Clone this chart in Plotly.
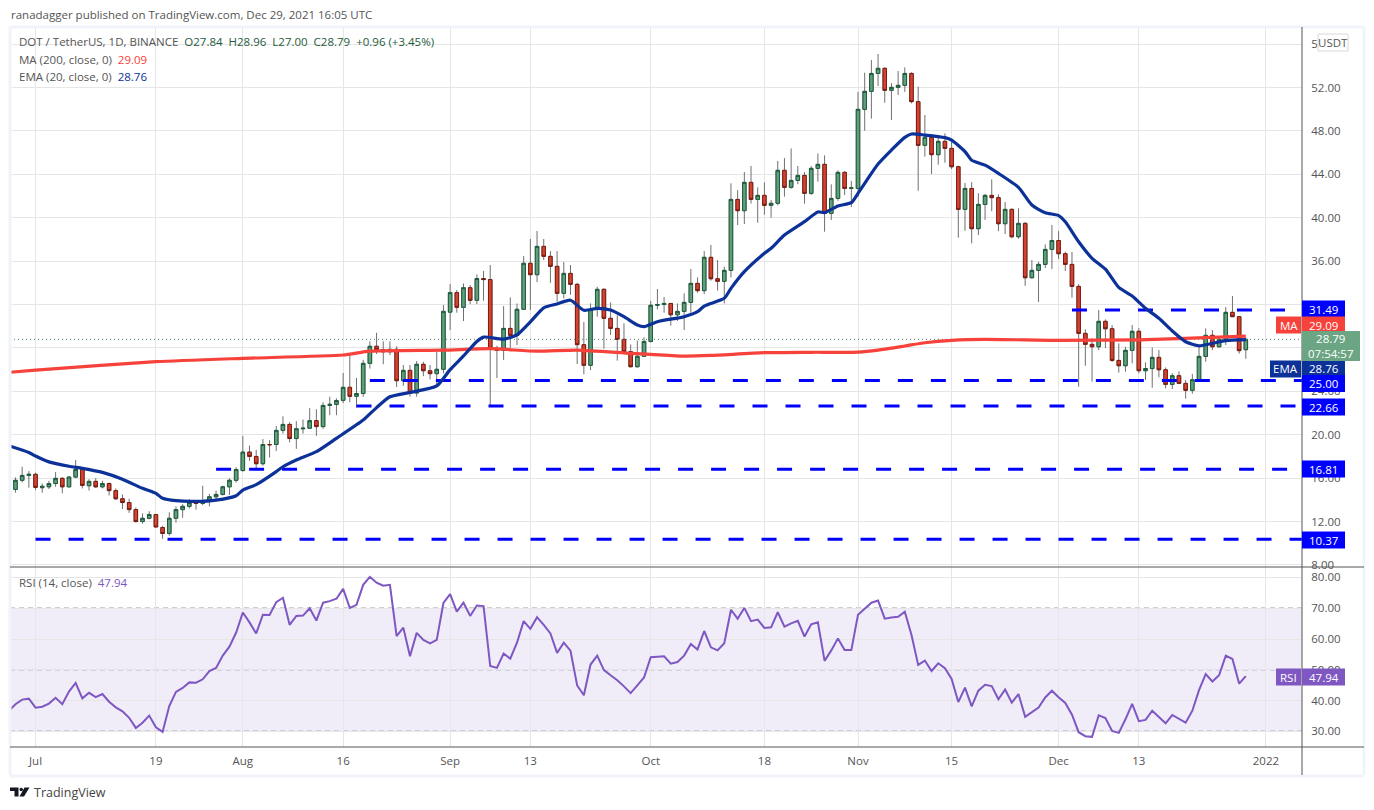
import pandas as pd
import plotly.graph_objects as go

# daily candles, Jun 27 - Dec 29 2021
dates = pd.date_range("2021-06-27", periods=186)

opens = [14.45, 14.96, 15.80, 16.25,
    16.35, 15.12, 15.20, 15.50, 15.98, 15.20, 16.10, 16.80, 15.30, 15.70, 15.20, 15.50, 14.85, 14.10, 13.75, 13.10, 12.00, 12.30, 12.65, 11.45, 10.90, 12.30, 13.10, 13.40, 13.75, 13.67, 13.92, 14.28, 14.50, 15.20, 15.80,
    16.70, 18.40, 18.00, 17.33, 19.10, 19.10, 20.40, 20.95, 19.65, 20.55, 20.60, 21.30, 20.75, 22.70, 22.80, 23.17, 24.37, 23.54, 23.80, 26.58, 28.15, 27.84, 27.65, 27.87, 24.98, 25.93, 23.85, 26.49, 25.90, 25.63, 26.03,
    31.30, 33.10, 31.74, 33.55, 32.39, 34.40, 34.30, 27.96, 27.78, 29.80, 29.16, 31.56, 35.80, 34.75, 37.36, 36.44, 35.52, 33.03, 34.87, 33.86, 28.30, 26.40, 31.56, 33.40, 30.73, 29.80, 28.79, 27.66, 26.27, 27.23,
    28.60, 31.93, 32.00, 32.10, 31.06, 31.37, 32.20, 33.95, 33.28, 36.35, 34.38, 34.14, 35.15, 41.69, 40.65, 43.26, 41.69, 42.06, 41.14, 41.33, 44.37, 42.80, 43.44, 43.90, 42.25, 44.55, 44.92, 40.40, 41.78, 44.18, 42.70,
    42.70, 49.99, 51.65, 53.30, 53.77, 51.74, 52.02, 52.20, 53.30, 50.70, 46.67, 47.41, 45.81, 47.04, 46.39, 44.70, 40.77, 42.70, 38.99, 41.23, 42.06, 41.85, 39.45, 40.77, 38.25, 39.48, 34.47, 35.15, 35.70, 37.08,
    37.90, 36.68, 35.70, 33.67, 29.34, 28.33, 28.11, 30.45, 29.77, 26.85, 26.36, 27.78, 29.53, 25.90, 26.10, 27.13, 25.99, 24.64, 25.44, 24.73, 24.09, 25.07, 27.22, 29.16, 28.11, 28.79, 31.28, 30.88, 27.84]

highs = [15.10, 16.07, 17.05, 16.65,
    16.50, 15.50, 15.75, 16.56, 16.10, 16.15, 17.67, 17.00, 15.90, 16.00, 15.75, 15.60, 15.05, 14.50, 14.10, 13.30, 12.75, 12.95, 12.70, 11.60, 12.85, 13.40, 13.60, 14.05, 13.90, 15.30, 14.55, 14.85, 15.30, 15.98, 17.00,
    19.90, 19.00, 18.60, 19.60, 19.50, 20.80, 21.70, 21.15, 21.25, 21.40, 22.45, 22.35, 23.00, 23.50, 23.35, 25.69, 27.44, 25.23, 26.90, 28.60, 29.40, 28.60, 28.60, 28.15, 26.43, 26.43, 26.80, 26.73, 26.43, 27.63, 31.96,
    33.90, 33.34, 33.95, 33.80, 34.78, 35.10, 35.64, 28.20, 31.86, 32.66, 32.10, 36.47, 38.04, 38.78, 38.04, 36.93, 36.93, 35.92, 35.64, 34.00, 30.40, 32.10, 33.64, 33.50, 32.20, 31.00, 30.27, 28.33, 28.67, 28.98,
    32.33, 33.43, 32.69, 32.10, 32.10, 33.03, 35.27, 34.50, 36.93, 37.50, 36.10, 35.49, 43.17, 42.55, 44.21, 44.77, 42.80, 43.26, 41.63, 45.23, 45.50, 46.39, 44.77, 44.21, 44.77, 45.93, 45.75, 43.08, 44.37, 44.30, 43.40,
    51.60, 53.37, 54.53, 55.09, 53.86, 52.40, 53.52, 53.86, 53.40, 52.08, 49.47, 47.68, 47.47, 47.78, 47.30, 44.80, 43.20, 43.29, 42.25, 42.20, 43.54, 42.15, 41.45, 40.86, 40.86, 39.60, 36.10, 35.95, 37.55, 39.33,
    38.77, 36.87, 36.84, 33.89, 29.71, 28.88, 31.49, 30.63, 30.10, 28.42, 28.11, 30.11, 29.83, 26.67, 28.05, 27.80, 26.20, 25.66, 25.84, 25.04, 25.60, 28.27, 29.80, 29.65, 29.03, 31.77, 32.78, 30.93, 28.96]

lows = [14.20, 14.66, 15.60, 15.12,
    14.90, 14.65, 15.00, 15.20, 14.60, 15.15, 16.00, 15.05, 14.85, 15.10, 15.05, 14.40, 13.98, 13.15, 12.80, 11.90, 11.80, 12.20, 11.45, 10.40, 10.70, 11.90, 12.35, 13.20, 13.10, 13.50, 13.40, 13.85, 14.40, 14.45, 15.60,
    16.60, 17.60, 16.85, 17.15, 17.90, 18.50, 20.10, 19.30, 18.70, 20.10, 20.55, 19.90, 20.55, 21.80, 21.80, 22.92, 23.00, 22.50, 23.50, 26.10, 27.44, 26.50, 27.35, 24.40, 24.50, 23.50, 23.50, 25.40, 25.10, 24.43, 25.66,
    29.65, 31.25, 30.48, 32.05, 32.05, 32.35, 22.68, 25.23, 26.90, 28.00, 28.27, 31.50, 31.50, 34.08, 36.10, 34.00, 32.26, 32.57, 32.90, 26.52, 25.57, 25.96, 30.88, 27.93, 29.20, 26.83, 27.50, 26.20, 26.18, 27.20,
    28.50, 31.55, 31.25, 30.05, 30.50, 29.65, 31.19, 33.09, 32.97, 34.20, 33.28, 32.10, 34.50, 39.33, 39.42, 41.30, 39.54, 40.28, 40.00, 41.14, 41.94, 42.68, 43.10, 41.30, 42.10, 43.32, 38.71, 39.79, 41.57, 42.09, 41.00,
    41.94, 48.02, 49.13, 52.14, 50.60, 49.00, 51.31, 51.60, 50.54, 42.49, 45.63, 44.03, 44.89, 45.07, 44.49, 38.16, 38.80, 37.64, 38.40, 39.80, 40.60, 38.77, 38.50, 38.10, 38.07, 33.73, 34.40, 32.23, 35.36, 35.27,
    36.19, 35.09, 32.63, 24.43, 26.36, 24.89, 27.80, 27.99, 26.70, 25.72, 25.81, 26.58, 25.66, 25.04, 24.33, 25.29, 24.27, 24.21, 24.67, 23.32, 23.78, 25.04, 26.73, 27.80, 28.05, 28.27, 30.85, 27.47, 27.00]

closes = [14.95, 15.80, 16.25, 16.35,
    15.15, 15.25, 15.50, 15.98, 15.20, 16.10, 16.80, 15.33, 15.70, 15.20, 15.50, 14.85, 14.10, 13.75, 13.10, 12.00, 12.30, 12.65, 11.50, 10.90, 12.30, 13.10, 13.40, 13.75, 13.67, 13.92, 14.28, 14.50, 15.20, 15.80, 16.80,
    18.40, 18.00, 17.33, 19.10, 19.08, 20.40, 20.95, 19.65, 20.55, 20.60, 21.30, 20.75, 22.70, 22.80, 23.15, 24.37, 23.54, 23.80, 26.58, 28.15, 27.84, 27.65, 27.87, 24.98, 25.93, 23.85, 26.49, 25.90, 25.63, 26.03, 31.37,
    33.10, 31.74, 33.55, 32.39, 34.40, 34.30, 27.96, 27.78, 29.80, 29.16, 31.56, 35.80, 34.75, 37.36, 36.44, 35.52, 33.03, 34.87, 33.86, 28.30, 26.40, 31.56, 33.40, 30.73, 29.80, 28.79, 27.66, 26.27, 27.23, 28.60,
    31.93, 32.00, 32.10, 31.06, 31.37, 32.20, 33.95, 33.28, 36.35, 34.38, 34.14, 35.15, 41.69, 40.65, 43.26, 41.69, 42.06, 41.14, 41.33, 44.37, 42.80, 43.44, 43.90, 42.25, 44.55, 44.92, 40.40, 41.78, 44.18, 42.70, 42.75,
    49.99, 51.65, 53.30, 53.77, 51.74, 52.02, 52.20, 53.30, 50.70, 46.67, 47.41, 45.81, 47.04, 46.39, 44.70, 40.77, 42.70, 38.99, 41.23, 42.06, 41.85, 39.45, 40.77, 38.25, 39.48, 34.47, 35.15, 35.70, 37.08, 37.90,
    36.68, 35.70, 33.67, 29.34, 28.33, 28.11, 30.45, 29.77, 26.85, 26.36, 27.78, 29.53, 25.90, 26.10, 27.13, 25.99, 24.64, 25.44, 24.73, 24.09, 25.07, 27.22, 29.16, 28.11, 28.79, 31.28, 30.88, 27.75, 28.79]

rsi = [36.7, 38.8, 40.3, 40.6,
    37.7, 38.0, 39.0, 40.9, 38.8, 42.9, 45.7, 40.7, 42.5, 41.1, 42.1, 39.6, 37.8, 36.5, 34.4, 31.1, 32.8, 35.1, 31.3, 29.8, 38.2, 42.8, 44.1, 45.9, 45.8, 46.9, 49.6, 50.6, 54.6, 57.5, 62.1,
    68.6, 65.4, 61.8, 67.9, 67.8, 72.0, 73.4, 64.6, 67.5, 67.6, 70.0, 66.0, 71.8, 72.3, 73.1, 76.3, 70.1, 71.1, 77.6, 80.2, 78.3, 77.3, 77.6, 60.9, 63.7, 54.4, 62.0, 59.7, 58.6, 59.7, 71.7,
    74.6, 68.9, 71.8, 67.5, 70.9, 70.7, 51.2, 50.6, 55.3, 53.6, 58.8, 65.8, 63.3, 67.1, 64.6, 61.8, 55.5, 58.8, 56.2, 44.9, 41.7, 51.7, 54.6, 49.9, 48.2, 46.6, 44.6, 42.4, 44.9, 47.5,
    54.1, 54.3, 54.4, 52.0, 52.5, 54.6, 58.4, 56.6, 62.6, 57.3, 56.3, 58.6, 69.5, 66.6, 70.1, 65.8, 66.3, 63.6, 63.8, 68.7, 64.0, 65.1, 65.9, 60.8, 64.8, 65.4, 52.9, 56.3, 60.2, 56.4, 56.4,
    67.9, 69.8, 71.8, 72.5, 66.6, 67.0, 67.2, 68.9, 61.3, 51.6, 53.0, 49.6, 52.1, 50.5, 47.0, 39.5, 44.2, 38.1, 43.2, 45.1, 44.7, 40.4, 43.6, 39.3, 42.1, 34.7, 36.2, 37.7, 41.0, 43.2,
    41.1, 39.2, 35.4, 29.7, 28.4, 28.2, 35.2, 34.3, 30.1, 29.5, 33.9, 38.9, 33.3, 33.7, 36.7, 34.7, 32.6, 35.3, 34.0, 32.8, 36.7, 43.4, 48.6, 46.2, 48.2, 54.6, 53.5, 45.5, 47.94]

# moving averages, read at the points where the curve bends
ma_dates = ["2021-06-27", "2021-07-01", "2021-07-19", "2021-08-01", "2021-08-16", "2021-08-20", "2021-08-31", "2021-09-07",
    "2021-09-14", "2021-09-20", "2021-09-28", "2021-10-01", "2021-10-06", "2021-10-10", "2021-10-18", "2021-10-25", "2021-11-01",
    "2021-11-04", "2021-11-08", "2021-11-11", "2021-11-15", "2021-11-20", "2021-12-01", "2021-12-13", "2021-12-25", "2021-12-29"]
ma_values = [25.75, 25.96, 26.73, 27.04, 27.35, 27.70, 27.80, 27.93,
    27.70, 27.80, 27.50, 27.41, 27.25, 27.31, 27.56, 27.60, 27.62,
    27.80, 28.18, 28.48, 28.70, 28.79, 28.70, 28.75, 29.00, 29.09]

ema_dates = ["2021-06-27", "2021-06-30", "2021-07-01", "2021-07-03", "2021-07-06", "2021-07-08", "2021-07-11", "2021-07-14", "2021-07-17", "2021-07-19",
    "2021-07-20", "2021-07-22", "2021-07-25", "2021-07-28", "2021-07-31", "2021-08-01", "2021-08-03", "2021-08-06", "2021-08-07", "2021-08-09", "2021-08-12", "2021-08-15",
    "2021-08-19", "2021-08-21", "2021-08-23", "2021-08-26", "2021-08-30", "2021-09-01", "2021-09-03", "2021-09-05", "2021-09-06", "2021-09-09", "2021-09-11", "2021-09-13",
    "2021-09-15", "2021-09-17", "2021-09-19", "2021-09-21", "2021-09-23", "2021-09-25", "2021-09-27", "2021-09-29", "2021-09-30", "2021-10-02",
    "2021-10-06", "2021-10-08", "2021-10-09", "2021-10-12", "2021-10-13", "2021-10-15", "2021-10-18", "2021-10-19", "2021-10-21", "2021-10-24", "2021-10-26", "2021-10-27",
    "2021-10-29", "2021-10-31", "2021-11-01", "2021-11-03", "2021-11-04", "2021-11-06", "2021-11-08", "2021-11-09", "2021-11-11", "2021-11-14", "2021-11-15", "2021-11-17",
    "2021-11-18", "2021-11-20", "2021-11-22", "2021-11-25", "2021-11-27", "2021-11-29", "2021-12-01", "2021-12-02", "2021-12-04", "2021-12-06", "2021-12-08", "2021-12-10",
    "2021-12-12", "2021-12-14", "2021-12-16", "2021-12-18", "2021-12-20", "2021-12-22", "2021-12-24", "2021-12-26", "2021-12-29"]
ema_values = [18.99, 18.37, 18.04, 17.50, 17.10, 16.90, 16.53, 15.90, 15.06, 14.60,
    14.14, 13.92, 13.86, 13.98, 14.38, 14.90, 15.40, 16.60, 17.05, 17.67, 18.44, 19.67,
    21.35, 22.50, 23.50, 23.90, 24.50, 26.00, 27.26, 28.60, 29.00, 28.82, 29.20, 30.40,
    31.70, 32.05, 32.40, 31.47, 31.65, 31.50, 30.88, 30.11, 29.96, 30.42,
    30.88, 31.34, 31.86, 32.57, 33.49, 35.03, 36.72, 37.18, 38.40, 39.64, 40.53, 40.47,
    41.08, 41.39, 42.25, 44.09, 44.95, 46.24, 47.41, 47.72, 47.62, 47.38, 47.16, 46.10,
    45.30, 44.85, 44.09, 42.80, 41.17, 40.46, 40.20, 39.63, 37.79, 36.26, 35.27, 33.58,
    32.78, 31.65, 30.73, 29.56, 28.57, 28.20, 28.42, 28.67, 28.76]

# horizontal support / resistance levels
level_values = [31.49, 25.00, 22.66, 16.81, 10.37]
level_starts = ["2021-12-03", "2021-08-20", "2021-08-18", "2021-07-28", "2021-07-01"]

last_price = 28.79
rsi_band = [30, 70]
rsi_mid = 50

price_ticks = [8, 12, 16, 20, 24, 28, 32, 36, 40, 44, 48, 52, 56]
# 28 and 32 sit fully behind the price tags on the original
price_labels = ["8.00", "12.00", "16.00", "20.00", "24.00", "", "", "36.00", "40.00", "44.00", "48.00", "52.00", "56.00"]
rsi_ticks = [30, 40, 50, 60, 70, 80]
time_ticks = ["2021-07-01", "2021-07-19", "2021-08-01", "2021-08-16", "2021-09-01", "2021-09-13", "2021-10-01",
    "2021-10-18", "2021-11-01", "2021-11-15", "2021-12-01", "2021-12-13", "2022-01-01"]
time_labels = ["Jul", "19", "Aug", "16", "Sep", "13", "Oct", "18", "Nov", "15", "Dec", "13", "2022"]

W, H = 1374, 810
FONT = "Open Sans"
FONT_SIZE = 11.5
GREY = "#555555"
GRID = "#e6e6e6"
X_RANGE = ["2021-06-27 04:20", "2022-01-06 09:36"]


def px(x, y):
    # page pixels to paper coordinates
    return x / W, 1 - y / H


def tag(text, x0, x1, yc, h, bg, color="white"):
    # price label on the axis: a filled box with its text on top
    shapes.append(dict(type="rect", xref="paper", yref="paper", layer="above", line_width=0, fillcolor=bg,
                       x0=x0 / W, x1=x1 / W, y0=1 - (yc + h / 2) / H, y1=1 - (yc - h / 2) / H))
    annotations.append(dict(text=text, xref="paper", yref="paper", x=(x0 + x1) / 2 / W, y=1 - yc / H,
                            xanchor="center", yanchor="middle", showarrow=False,
                            font=dict(family=FONT, size=FONT_SIZE, color=color)))


def label(text, x, y, size=FONT_SIZE, color=GREY):
    annotations.append(dict(text=text, xref="paper", yref="paper", x=x / W, y=1 - y / H,
                            xanchor="left", yanchor="middle", showarrow=False, borderpad=0,
                            font=dict(family=FONT, size=size, color=color)))


fig = go.Figure()

# levels and averages go under the candles
for value, start in zip(level_values, level_starts):
    fig.add_trace(go.Scatter(x=[start, X_RANGE[1]], y=[value, value], mode="lines", hoverinfo="skip",
                             line=dict(color="#0000ff", width=3, dash="15px,18px")))
fig.add_trace(go.Scatter(x=X_RANGE, y=[last_price, last_price], mode="lines", hoverinfo="skip",
                         line=dict(color="#4f8a6a", width=1, dash="1px,3px")))
fig.add_trace(go.Scatter(x=ma_dates, y=ma_values, mode="lines", name="MA",
                         line=dict(color="#f6423a", width=3.2, shape="spline", smoothing=0.6)))
fig.add_trace(go.Scatter(x=ema_dates, y=ema_values, mode="lines", name="EMA",
                         line=dict(color="#0c3299", width=3.2, shape="spline", smoothing=0.6)))

# grey wicks first, then the bodies with their dark outline
fig.add_trace(go.Candlestick(x=dates, open=opens, high=highs, low=lows, close=closes,
                             increasing=dict(line=dict(color="#707070", width=1), fillcolor="rgba(0,0,0,0)"),
                             decreasing=dict(line=dict(color="#707070", width=1), fillcolor="rgba(0,0,0,0)"),
                             hoverinfo="skip"))
body_top = [max(o, c) for o, c in zip(opens, closes)]
body_bottom = [min(o, c) for o, c in zip(opens, closes)]
fig.add_trace(go.Candlestick(x=dates, open=opens, high=body_top, low=body_bottom, close=closes, name="DOT",
                             increasing=dict(line=dict(color="#1d5c3c", width=1), fillcolor="#5f9f7c"),
                             decreasing=dict(line=dict(color="#7a1c12", width=1), fillcolor="#d5432f")))

fig.add_trace(go.Scatter(x=dates, y=rsi, mode="lines", name="RSI", xaxis="x2", yaxis="y2",
                         line=dict(color="#7e57c2", width=2)))

shapes = []
annotations = []

# RSI band and its dashed guides
shapes.append(dict(type="rect", xref="x2", yref="y2", x0=X_RANGE[0], x1=X_RANGE[1], y0=rsi_band[0], y1=rsi_band[1],
                   fillcolor="rgba(126,87,194,0.11)", line_width=0, layer="below"))
for level, color in [(rsi_band[0], "#55555f"), (rsi_mid, "#8a80a0"), (rsi_band[1], "#55555f")]:
    shapes.append(dict(type="line", xref="x2", yref="y2", x0=X_RANGE[0], x1=X_RANGE[1], y0=level, y1=level,
                       line=dict(color=color, width=1, dash="5px,4px"), layer="below"))

# pane frame, separators and the axis line
for x0, y0, x1, y1, color, width in [(10, 27, 1364, 27, "#f0f3fa", 3), (10, 27, 10, 775, "#f0f3fa", 3),
                                     (1364, 27, 1364, 775, "#f0f3fa", 3), (10, 776, 1364, 776, "#f0f3fa", 3),
                                     (10, 567, 1364, 567, "#555555", 1), (10, 747, 1364, 747, "#555555", 1),
                                     (1302, 27, 1302, 775, "#555555", 1)]:
    shapes.append(dict(type="line", xref="paper", yref="paper", x0=x0 / W, x1=x1 / W, y0=1 - y0 / H, y1=1 - y1 / H,
                       line=dict(color=color, width=width), layer="above"))

# TradingView mark
shapes.append(dict(type="path", xref="paper", yref="paper", fillcolor="#131722", line_width=0, layer="above",
                   path="M %f %f L %f %f L %f %f L %f %f L %f %f L %f %f Z" % (
                       *px(10, 787.5), *px(18.5, 787.5), *px(18.5, 796.5), *px(14.5, 796.5), *px(14.5, 791), *px(10, 791))))
shapes.append(dict(type="path", xref="paper", yref="paper", fillcolor="#131722", line_width=0, layer="above",
                   path="M %f %f L %f %f L %f %f L %f %f Z" % (
                       *px(24.5, 787.5), *px(29.5, 787.5), *px(24, 796.5), *px(19.5, 796.5))))
shapes.append(dict(type="circle", xref="paper", yref="paper", fillcolor="#131722", line_width=0, layer="above",
                   x0=19.5 / W, x1=23 / W, y0=1 - 791.3 / H, y1=1 - 787.8 / H))

# axis price tags, nudged apart as on the original
tag("31.49", 1302, 1345, 309, 17, "#0000ff")
tag("MA", 1276, 1301, 325, 17, "#f6423a")
tag("29.09", 1302, 1345, 325, 17, "#f6423a")
tag("EMA", 1270, 1301, 369, 17, "#0c3299")
tag("28.76", 1302, 1345, 369, 17, "#0c3299")
tag("25.00", 1302, 1345, 383.5, 17, "#0000ff")
tag("22.66", 1302, 1345, 407, 17, "#0000ff")
tag("16.81", 1302, 1345, 469, 17, "#0000ff")
tag("10.37", 1302, 1345, 540, 17, "#0000ff")
tag("28.79<br>07:54:57", 1302, 1360, 346, 30, "#6ba583")
tag("RSI", 1276, 1301, 677, 17, "#7e57c2")
tag("47.94", 1302, 1345, 677, 17, "#7e57c2")

# USDT currency chip
shapes.append(dict(type="rect", xref="paper", yref="paper", layer="above", fillcolor="white",
                   line=dict(color="#d8d8de", width=1), x0=1318 / W, x1=1348 / W, y0=1 - 51 / H, y1=1 - 34 / H))
annotations.append(dict(text="USDT", xref="paper", yref="paper", x=1333 / W, y=1 - 42.5 / H, showarrow=False,
                        xanchor="center", yanchor="middle", font=dict(family=FONT, size=FONT_SIZE, color=GREY)))

green = "#1e5c3c"
label("ranadagger published on TradingView.com, Dec 29, 2021 16:05 UTC", 9.5, 15)
label("DOT / TetherUS, 1D, BINANCE&nbsp;&nbsp;<span style='color:%s'>O27.84&nbsp;&nbsp;H28.96&nbsp;&nbsp;L27.00&nbsp;&nbsp;"
      "C28.79&nbsp;&nbsp;+0.96 (+3.45%%)</span>" % green, 17.5, 42)
label("MA (200, close, 0)&nbsp;&nbsp;<span style='color:#f6423a'>29.09</span>", 17.5, 59)
label("EMA (20, close, 0)&nbsp;&nbsp;<span style='color:#0c3299'>28.76</span>", 17.5, 76)
label("RSI (14, close)&nbsp;&nbsp;<span style='color:#7e57c2'>47.94</span>", 17.5, 582)
label("TradingView", 33, 792, size=12.5, color="#444444")

# the plot area comes out 5px short of the layout height, so ask for 5px more
fig.update_layout(
    width=W, height=H + 5, margin=dict(l=0, r=0, t=0, b=0, pad=0),
    paper_bgcolor="white", plot_bgcolor="white", showlegend=False, dragmode=False, boxgap=0.25,
    font=dict(family=FONT, size=FONT_SIZE, color=GREY),
    shapes=shapes, annotations=annotations,
    xaxis=dict(domain=[10 / W, 1302 / W], range=X_RANGE, type="date", anchor="y", rangeslider=dict(visible=False),
               tickmode="array", tickvals=time_ticks, showticklabels=False, gridcolor=GRID, gridwidth=1,
               showline=False, zeroline=False),
    xaxis2=dict(domain=[10 / W, 1302 / W], range=X_RANGE, type="date", anchor="y2", matches="x",
                tickmode="array", tickvals=time_ticks, ticktext=time_labels, gridcolor=GRID, gridwidth=1,
                showline=False, zeroline=False, ticks="outside", ticklen=3, tickcolor="rgba(0,0,0,0)"),
    yaxis=dict(domain=[1 - 567 / H, 1 - 27 / H], range=[7.81, 57.58], side="right", anchor="x",
               tickmode="array", tickvals=price_ticks, ticktext=price_labels, gridcolor=GRID, gridwidth=1,
               showline=False, zeroline=False, ticks="outside", ticklen=6, tickcolor="rgba(0,0,0,0)"),
    yaxis2=dict(domain=[1 - 747 / H, 1 - 567 / H], range=[24.9, 83.4], side="right", anchor="x2",
                tickmode="array", tickvals=rsi_ticks, tickformat=".2f", gridcolor=GRID, gridwidth=1,
                showline=False, zeroline=False, ticks="outside", ticklen=6, tickcolor="rgba(0,0,0,0)"),
)

# pin the graph to the page corner so the page is exactly the window
fig.write_html(
    "out.html",
    config={"displayModeBar": False},
    post_script="document.documentElement.style.overflow='hidden';document.body.style.margin='0';"
                "document.body.style.overflow='hidden';"
                "var g=document.querySelector('.plotly-graph-div');"
                "g.style.position='fixed';g.style.left='0';g.style.top='0';",
)
